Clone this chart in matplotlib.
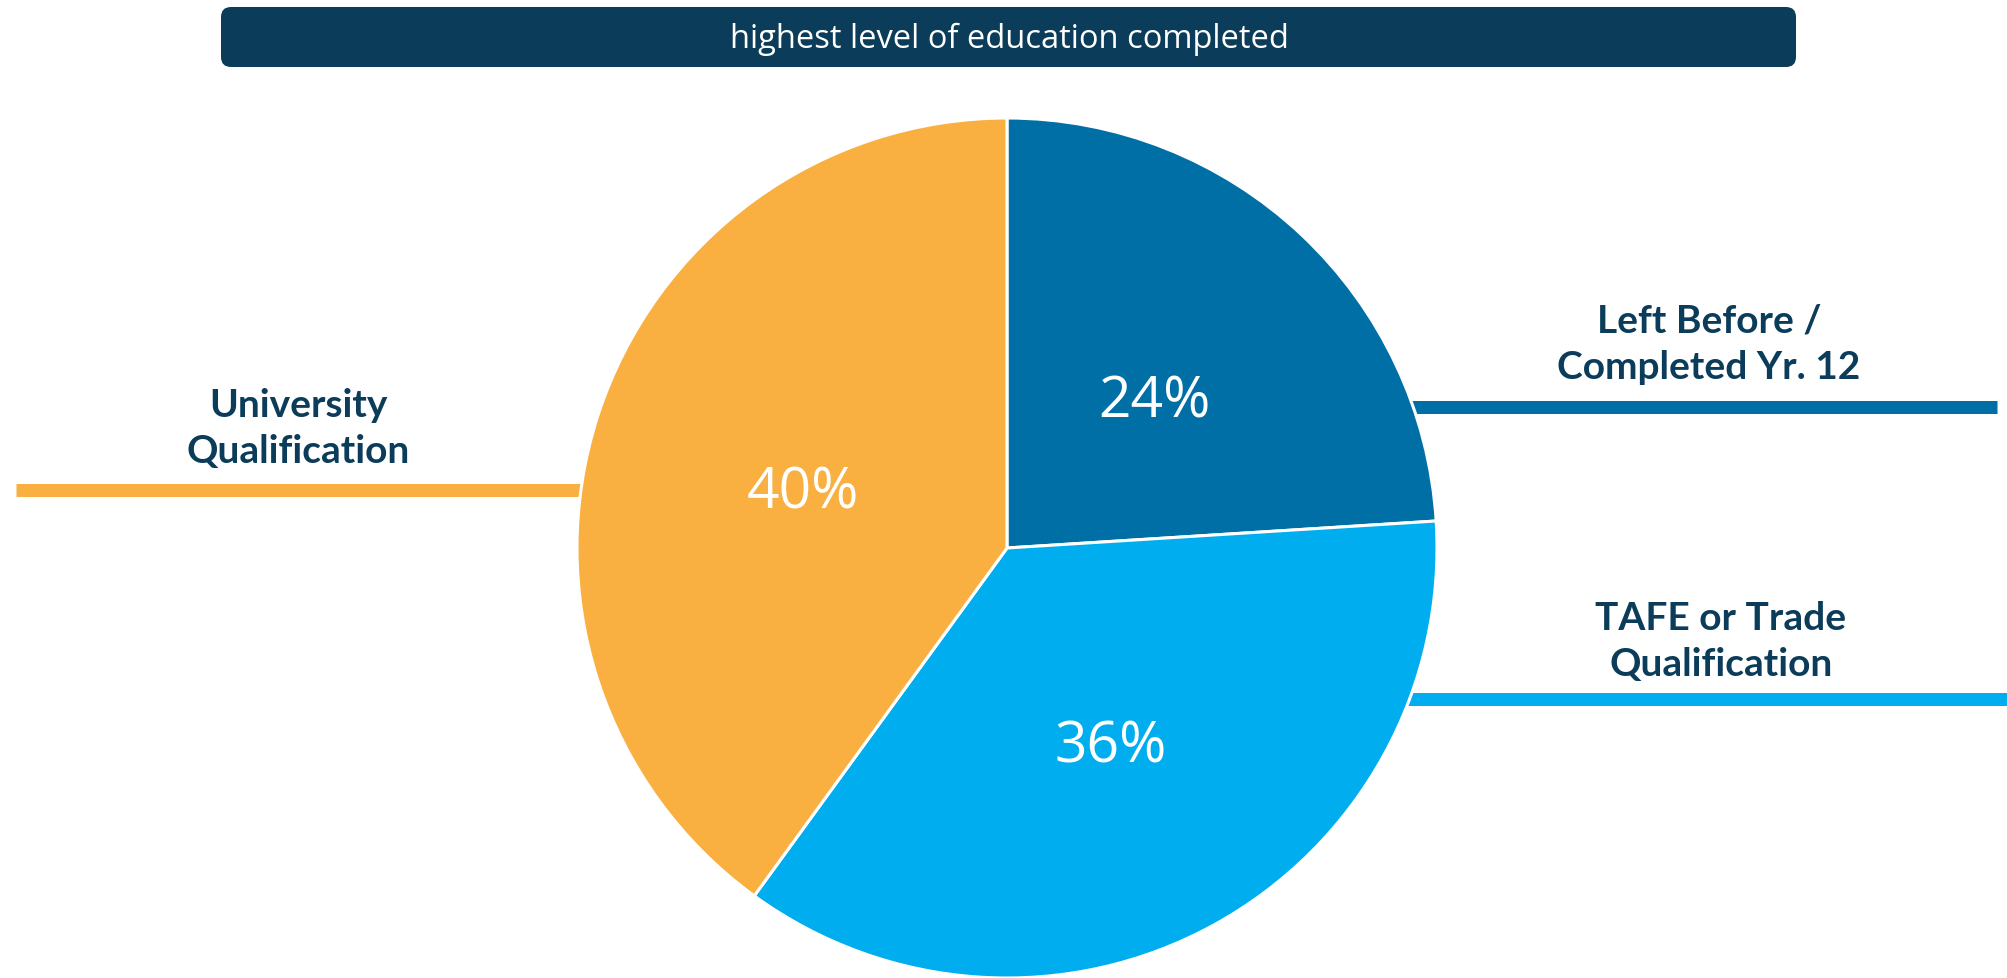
import matplotlib
matplotlib.use("Agg")
import matplotlib.pyplot as plt
from matplotlib.patches import FancyBboxPatch

W, H = 2007, 979

# education breakdown, clockwise from 12 o'clock
categories = ["Left Before /\nCompleted Yr. 12", "TAFE or Trade\nQualification", "University\nQualification"]
shares = [24, 36, 40]
colors = ["#006FA6", "#00AEEF", "#FAAF41"]
title = "highest level of education completed"

navy = "#0B3C5A"

fig = plt.figure(figsize=(W / 100, H / 100), dpi=100)
ax = fig.add_axes([0, 0, 1, 1])

cx, cy, r = 1007, H - 549, 430

# leader bars running out from behind the pie
bar_lw = 13 * 72 / 100
ax.plot([1997, cx], [H - 408] * 2, color=colors[0], lw=bar_lw, solid_capstyle="butt", zorder=0)
ax.plot([W, cx], [H - 700] * 2, color=colors[1], lw=bar_lw, solid_capstyle="butt", zorder=0)
ax.plot([16, cx], [H - 491] * 2, color=colors[2], lw=bar_lw, solid_capstyle="butt", zorder=0)

wedges, _, autotexts = ax.pie(
    shares, colors=colors, startangle=90, counterclock=False,
    radius=r, center=(cx, cy), pctdistance=0.5,
    autopct=lambda p: f"{p:.0f}%",
    wedgeprops=dict(edgecolor="white", linewidth=2.2),
    textprops=dict(color="white", fontsize=41, family="Open Sans"),
)
# nudge the percentages down a little
for t in autotexts:
    x, y = t.get_position()
    t.set_position((x, y - 11))

# category labels, one text per line
label_pos = [(1709, 333), (1721, 630), (298, 417)]
for name, (x, y) in zip(categories, label_pos):
    for i, line in enumerate(name.split("\n")):
        ax.text(x, H - (y + i * 46), line, ha="center", va="baseline",
                fontsize=28, fontweight="bold", family="Lato", color=navy)

# title banner
box = FancyBboxPatch((221, H - 68), 1575, 60, boxstyle="round,pad=0,rounding_size=10",
                     facecolor=navy, edgecolor="none")
ax.add_patch(box)
ax.text(1009, H - 39, title, ha="center", va="center", color="white",
        fontsize=23.5, family="Open Sans")

ax.set_xlim(0, W)
ax.set_ylim(0, H)
ax.set_aspect("equal")
ax.axis("off")

fig.savefig("out.png", dpi=100, facecolor="white")
